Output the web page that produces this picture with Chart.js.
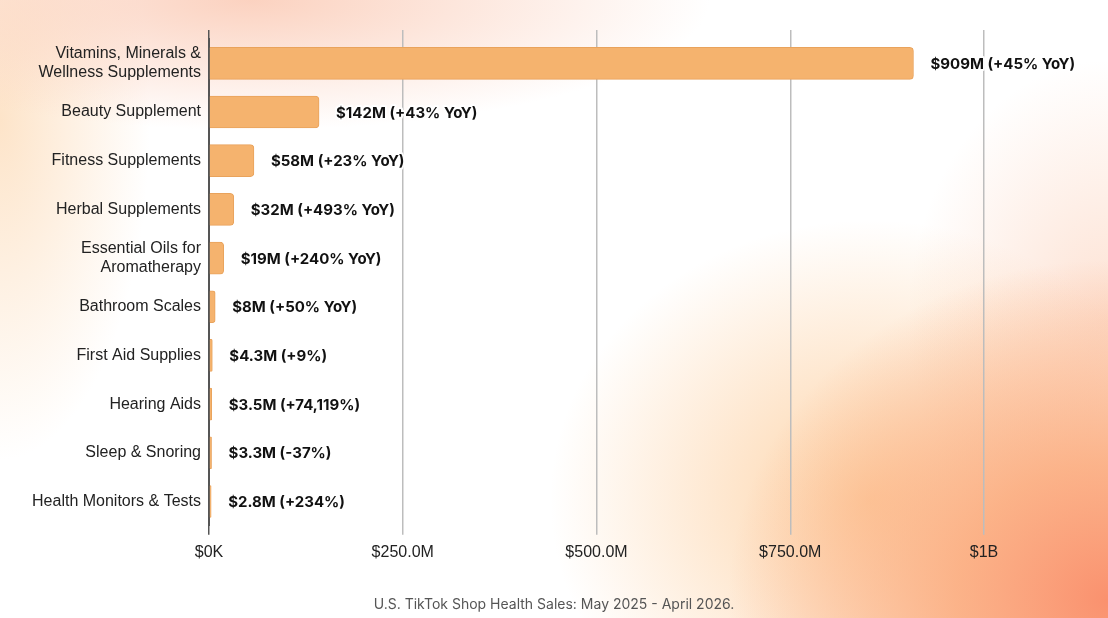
<!DOCTYPE html>
<html>
<head>
<meta charset="utf-8">
<script src="https://cdn.jsdelivr.net/npm/chart.js@4/dist/chart.umd.min.js"></script>
<style>
  html, body { margin: 0; padding: 0; }
  body {
    width: 1108px; height: 618px; overflow: hidden; position: relative;
    background:
      radial-gradient(ellipse 380px 340px at 1108px 600px, rgba(250,145,110,1) 0%, rgba(251,170,125,0.85) 40%, rgba(252,200,150,0) 100%),
      radial-gradient(ellipse 320px 280px at 870px 500px, rgba(253,200,145,0.8) 0%, rgba(253,215,170,0) 100%),
      radial-gradient(ellipse 200px 260px at 1108px 320px, rgba(252,205,180,0.6) 0%, rgba(252,220,200,0) 100%),
      radial-gradient(ellipse 460px 130px at 250px 0px, rgba(251,205,185,0.9) 0%, rgba(252,220,200,0) 100%),
      radial-gradient(ellipse 150px 340px at 0px 120px, rgba(253,225,195,0.9) 0%, rgba(253,235,215,0) 100%),
      #ffffff;
  }
  #wrap { position: absolute; left: 0; top: 0; width: 1108px; height: 618px; }
  #footer {
    position: absolute; left: 0; width: 1108px; top: 594px;
    text-align: center; color: #555;
    font: 14px Inter, "Noto Sans", sans-serif; line-height: 20px;
  }
</style>
</head>
<body>
<div id="wrap"><canvas id="chart"></canvas></div>
<div id="footer"></div>
<script>
// Categorias e valores (em milhões de dólares)
const categories = [
  ['Vitamins, Minerals &', 'Wellness Supplements'],
  'Beauty Supplement',
  'Fitness Supplements',
  'Herbal Supplements',
  ['Essential Oils for', 'Aromatherapy'],
  'Bathroom Scales',
  'First Aid Supplies',
  'Hearing Aids',
  'Sleep & Snoring',
  'Health Monitors & Tests'
];
const salesMillions = [909, 142, 58, 32, 19, 8, 4.3, 3.5, 3.3, 2.8];
const valueLabels = [
  '$909M (+45% YoY)',
  '$142M (+43% YoY)',
  '$58M (+23% YoY)',
  '$32M (+493% YoY)',
  '$19M (+240% YoY)',
  '$8M (+50% YoY)',
  '$4.3M (+9%)',
  '$3.5M (+74,119%)',
  '$3.3M (-37%)',
  '$2.8M (+234%)'
];
const tickLabels = ['$0K', '$250.0M', '$500.0M', '$750.0M', '$1B'];
const footerText = 'U.S. TikTok Shop Health Sales: May 2025 - April 2026.';

document.getElementById('footer').textContent = footerText;

// Rótulos de valor ao lado das barras
const barLabels = {
  id: 'barLabels',
  afterDatasetsDraw(chart) {
    const ctx = chart.ctx;
    const meta = chart.getDatasetMeta(0);
    ctx.save();
    ctx.font = 'bold 15px Inter, "Noto Sans", sans-serif';
    ctx.textBaseline = 'middle';
    ctx.textAlign = 'left';
    ctx.lineJoin = 'round';
    meta.data.forEach((bar, i) => {
      const x = bar.x + 17;
      const y = bar.y + 1;
      ctx.strokeStyle = 'rgba(255,255,255,0.95)';
      ctx.lineWidth = 4;
      ctx.strokeText(valueLabels[i], x, y);
      ctx.fillStyle = '#111';
      ctx.fillText(valueLabels[i], x, y);
    });
    ctx.restore();
  }
};

const gridColor = c => (c.tick && c.tick.value === 0) ? '#555' : '#bdbdbd';

new Chart(document.getElementById('chart'), {
  type: 'bar',
  data: {
    labels: categories,
    datasets: [{
      data: salesMillions.map(v => v * 1e6),
      backgroundColor: '#f5b36e',
      borderColor: '#e9a35c',
      borderWidth: 1,
      borderRadius: 4,
      barThickness: 32
    }]
  },
  options: {
    indexAxis: 'y',
    responsive: true,
    maintainAspectRatio: false,
    animation: false,
    layout: { padding: { top: 30, right: 124, left: 0, bottom: 48 } },
    plugins: {
      legend: { display: false },
      tooltip: { enabled: false }
    },
    scales: {
      x: {
        position: 'bottom',
        min: 0,
        max: 1e9,
        ticks: {
          stepSize: 2.5e8,
          padding: 8,
          color: '#222',
          font: { family: '"Liberation Sans", Arial, sans-serif', size: 16 },
          callback: (v, i) => tickLabels[i]
        },
        grid: { color: gridColor, lineWidth: 1.5, tickLength: 9 },
        border: { display: false }
      },
      xTop: {
        type: 'linear',
        position: 'top',
        min: 0,
        max: 1e9,
        ticks: { stepSize: 2.5e8, display: false },
        grid: { color: gridColor, lineWidth: 1.5, tickLength: 9, drawOnChartArea: false },
        border: { display: false }
      },
      y: {
        ticks: {
          color: '#222',
          padding: 8,
          font: { family: '"Liberation Sans", Arial, sans-serif', size: 16 }
        },
        grid: { display: false, drawTicks: false },
        border: { display: true, color: '#555', width: 2 },
        afterFit: scale => { scale.width = 209; }
      }
    }
  },
  plugins: [barLabels]
});
</script>
</body>
</html>
